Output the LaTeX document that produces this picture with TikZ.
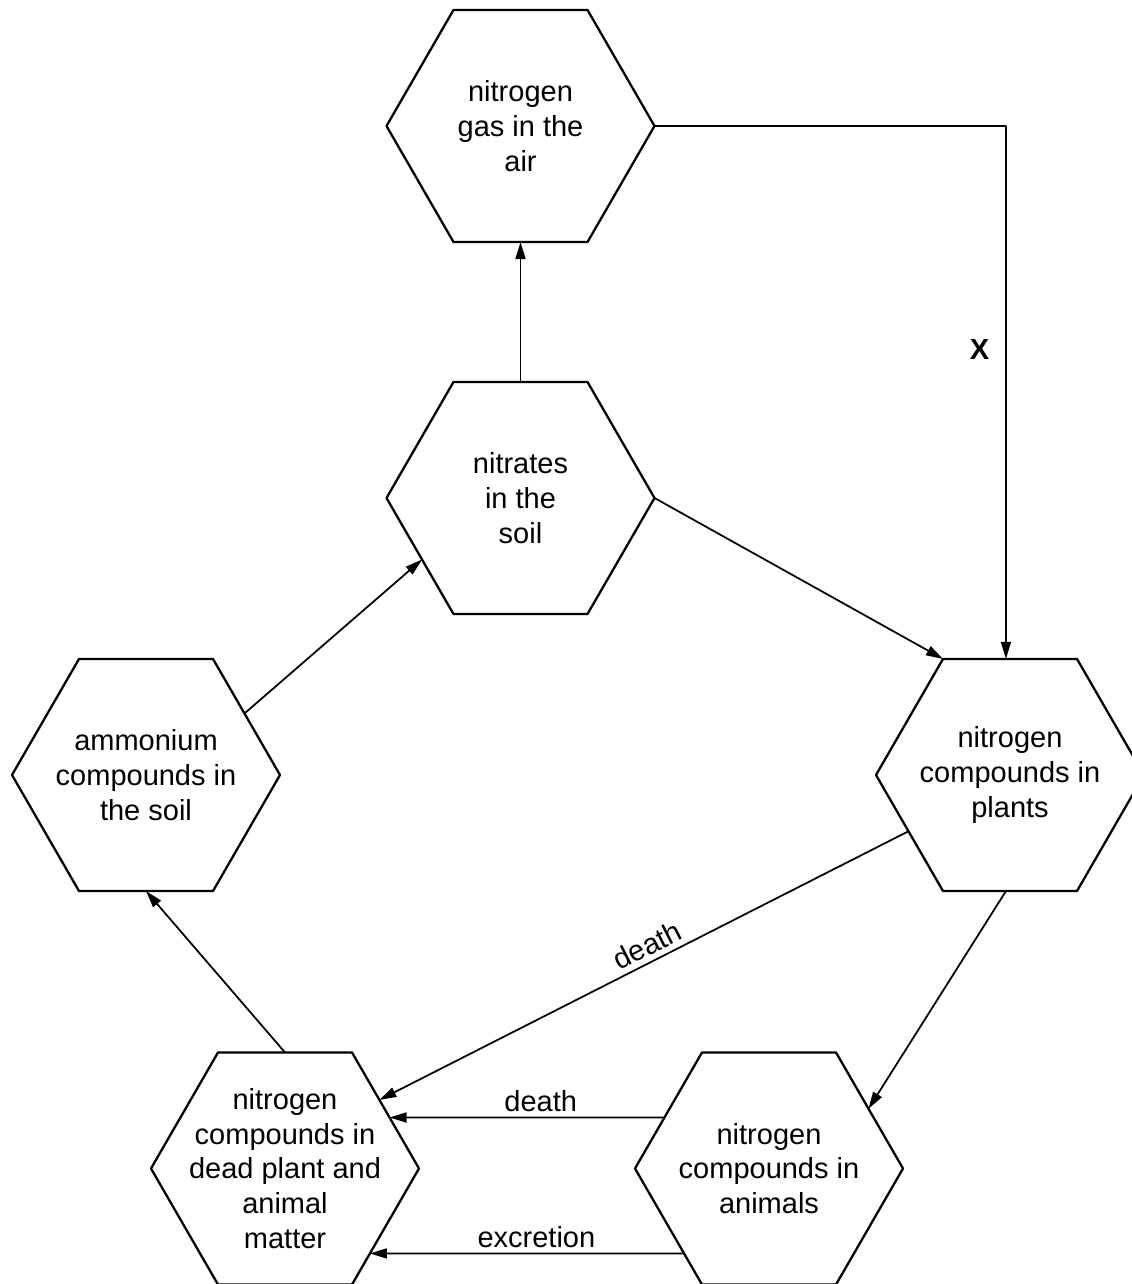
\documentclass[tikz,border=0pt]{standalone}
\usepackage{fontspec}
\setmainfont{Liberation Sans}
\usetikzlibrary{shapes.geometric,arrows.meta}
\begin{document}
\begin{tikzpicture}[line join=round,
  hexa/.style={draw, regular polygon, regular polygon sides=6, minimum size=5.36cm,
    inner sep=0pt, outer sep=0pt, line width=1.3pt},
  txt/.style={align=center, font=\fontsize{16.5}{19.8}\selectfont},
  lbl/.style={font=\fontsize{16.5}{19.8}\selectfont, inner sep=3pt},
  flow/.style={-{Triangle[length=0.34cm,width=0.2cm]}, line width=1pt}]
  \path[use as bounding box] (0,0) rectangle (22.64,25.68);
  \fill[white] (0,0) rectangle (22.64,25.68);
  % The six stores of nitrogen, each a hexagon with its words on top.
  \node[hexa] (gas) at (10.41,23.16) {};
  \node[hexa] (nitrates) at (10.41,15.72) {};
  \node[hexa] (plants) at (20.20,10.18) {};
  \node[hexa] (ammonium) at (2.92,10.18) {};
  \node[hexa] (dead) at (5.70,2.31) {};
  \node[hexa] (animals) at (15.38,2.31) {};
  \node[txt] (gas-txt) at (gas) {nitrogen\\gas in the\\air};
  \node[txt] (nitrates-txt) at (nitrates) {nitrates\\in the\\soil};
  \node[txt] (plants-txt) at (plants) {nitrogen\\compounds in\\plants};
  \node[txt] (ammonium-txt) at (ammonium) {ammonium\\compounds in\\the soil};
  \node[txt] (dead-txt) at (dead) {nitrogen\\compounds in\\dead plant and\\animal\\matter};
  \node[txt] (animals-txt) at (animals) {nitrogen\\compounds in\\animals};
  % Flows between the stores.
  \draw[flow] (nitrates.north) -- (gas.south);
  \draw[flow] (gas.east) -| node[pos=0.71, left=2mm, font=\fontsize{16.5}{19.8}\selectfont\bfseries] (x-lbl) {X} (plants.92);
  \draw[flow] (nitrates.east) -- (plants.corner 2);
  \draw[flow] (ammonium.32) -- (nitrates.212);
  \draw[flow] (dead.north) -- (ammonium.south);
  \draw[flow] (plants.209) -- node[lbl, sloped, above, pos=0.48] (death-a) {death} (dead.36);
  \draw[flow] (plants.268) -- (animals.31);
  \draw[flow] (animals.154) -- node[lbl, above, pos=0.45] (death-b) {death} (dead.26);
  \draw[flow] (animals.225) -- node[lbl, above, pos=0.47] (excretion) {excretion} (dead.-45);
\end{tikzpicture}
\end{document}
